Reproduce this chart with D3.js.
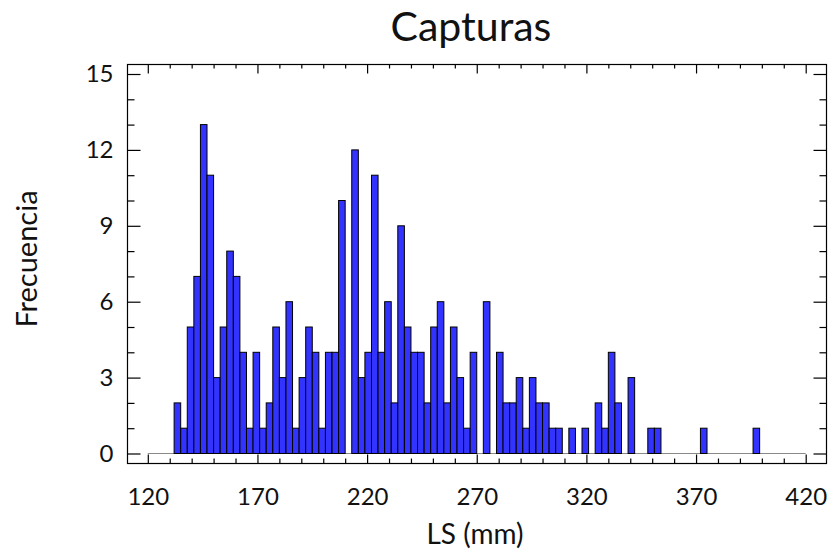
<!DOCTYPE html>
<html>
<head>
<meta charset="utf-8">
<script src="https://cdn.jsdelivr.net/npm/d3@7"></script>
<style>
  html, body { margin: 0; padding: 0; background: #fff; }
  svg { display: block; font-family: Lato, "Open Sans", sans-serif; }
</style>
</head>
<body>
<svg id="chart" width="829" height="559"></svg>
<script>
// ---- data ----
const title = "Capturas";
const xLabel = "LS (mm)";
const yLabel = "Frecuencia";
const binWidth = 3;
const binStarts = [
  120,123,126,129,132,135,138,141,144,147,
  150,153,156,159,162,165,168,171,174,177,
  180,183,186,189,192,195,198,201,204,207,
  210,213,216,219,222,225,228,231,234,237,
  240,243,246,249,252,255,258,261,264,267,
  270,273,276,279,282,285,288,291,294,297,
  300,303,306,309,312,315,318,321,324,327,
  330,333,336,339,342,345,348,351,354,357,
  360,363,366,369,372,375,378,381,384,387,
  390,393,396,399,402,405,408,411,414,417
];
const counts = [
  0,0,0,0,2,1,5,7,13,11,
  3,5,8,7,4,1,4,1,2,5,
  3,6,1,3,5,4,1,4,4,10,
  0,12,3,4,11,4,6,2,9,5,
  4,4,2,5,6,2,5,3,1,4,
  0,6,0,4,2,2,3,1,3,2,
  2,1,1,0,1,0,1,0,2,1,
  4,2,0,3,0,0,1,1,0,0,
  0,0,0,0,1,0,0,0,0,0,
  0,0,1,0,0,0,0,0,0,0
];
const xTicks = [120,170,220,270,320,370,420];
const xMinorTicks = [110,130,140,150,160,180,190,200,210,230,240,250,260,280,290,300,310,330,340,350,360,380,390,400,410,430];
const yTicks = [0,3,6,9,12,15];
const yMinorTicks = [1,2,4,5,7,8,10,11,13,14];

// ---- layout ----
const frame = {left: 127.5, right: 826.5, top: 64.5, bottom: 463.5};
const svg = d3.select("#chart");
const x = d3.scaleLinear().domain([120, 420]).range([147.8, 805.7]);
const y = d3.scaleLinear().domain([0, 15]).range([453.5, 74]);

const bins = binStarts.map((s, i) => ({x0: s, x1: s + binWidth, n: counts[i]}));

// baseline of empty bins
svg.append("line")
  .attr("x1", x(binStarts[0])).attr("x2", x(binStarts[binStarts.length-1] + binWidth))
  .attr("y1", y(0)).attr("y2", y(0))
  .attr("stroke", "#8a8a8a").attr("stroke-width", 1.2);

// bars
svg.append("g").selectAll("rect")
  .data(bins.filter(d => d.n > 0))
  .join("rect")
  .attr("x", d => x(d.x0))
  .attr("width", d => x(d.x1) - x(d.x0))
  .attr("y", d => y(d.n))
  .attr("height", d => y(0) - y(d.n))
  .attr("fill", "#3333ff")
  .attr("stroke", "#000")
  .attr("stroke-width", 1);

// frame
svg.append("rect")
  .attr("x", frame.left).attr("y", frame.top)
  .attr("width", frame.right - frame.left).attr("height", frame.bottom - frame.top)
  .attr("fill", "none").attr("stroke", "#000").attr("stroke-width", 1.2);

function styleAxis(g) {
  g.select(".domain").remove();
  g.selectAll(".tick line").attr("stroke", "#000").attr("stroke-width", 1.2);
}

// x axes (bottom with labels, top mirrored)
svg.append("g").attr("transform", `translate(0,${frame.bottom})`)
  .call(d3.axisBottom(x).tickValues(xTicks).tickSize(-9).tickPadding(24).tickFormat(d3.format("d")))
  .call(styleAxis)
  .call(g => g.selectAll("text").attr("font-size", 24).attr("fill", "#111").attr("font-family", "Lato, sans-serif"));
svg.append("g").attr("transform", `translate(0,${frame.bottom})`)
  .call(d3.axisBottom(x).tickValues(xMinorTicks.filter(v => x(v) > frame.left && x(v) < frame.right)).tickSize(-5).tickFormat(""))
  .call(styleAxis);
svg.append("g").attr("transform", `translate(0,${frame.top})`)
  .call(d3.axisTop(x).tickValues(xTicks).tickSize(-9).tickFormat(""))
  .call(styleAxis);
svg.append("g").attr("transform", `translate(0,${frame.top})`)
  .call(d3.axisTop(x).tickValues(xMinorTicks.filter(v => x(v) > frame.left && x(v) < frame.right)).tickSize(-4).tickFormat(""))
  .call(styleAxis);

// y axes (left with labels, right mirrored)
svg.append("g").attr("transform", `translate(${frame.left},0)`)
  .call(d3.axisLeft(y).tickValues(yTicks).tickSize(-13).tickPadding(14).tickFormat(d3.format("d")))
  .call(styleAxis)
  .call(g => g.selectAll("text").attr("font-size", 24).attr("fill", "#111").attr("font-family", "Lato, sans-serif"));
svg.append("g").attr("transform", `translate(${frame.left},0)`)
  .call(d3.axisLeft(y).tickValues(yMinorTicks).tickSize(-7).tickFormat(""))
  .call(styleAxis);
svg.append("g").attr("transform", `translate(${frame.right},0)`)
  .call(d3.axisRight(y).tickValues(yTicks).tickSize(-13).tickFormat(""))
  .call(styleAxis);
svg.append("g").attr("transform", `translate(${frame.right},0)`)
  .call(d3.axisRight(y).tickValues(yMinorTicks).tickSize(-7).tickFormat(""))
  .call(styleAxis);

// title and axis labels
svg.append("text")
  .attr("x", 471).attr("y", 41)
  .attr("text-anchor", "middle")
  .attr("font-size", 41).attr("fill", "#111")
  .text(title);
svg.append("text")
  .attr("x", 475).attr("y", 544)
  .attr("text-anchor", "middle")
  .attr("font-size", 28).attr("fill", "#111")
  .text(xLabel);
svg.append("text")
  .attr("transform", "translate(37,259) rotate(-90)")
  .attr("text-anchor", "middle")
  .attr("font-size", 29).attr("fill", "#111")
  .text(yLabel);
</script>
</body>
</html>
